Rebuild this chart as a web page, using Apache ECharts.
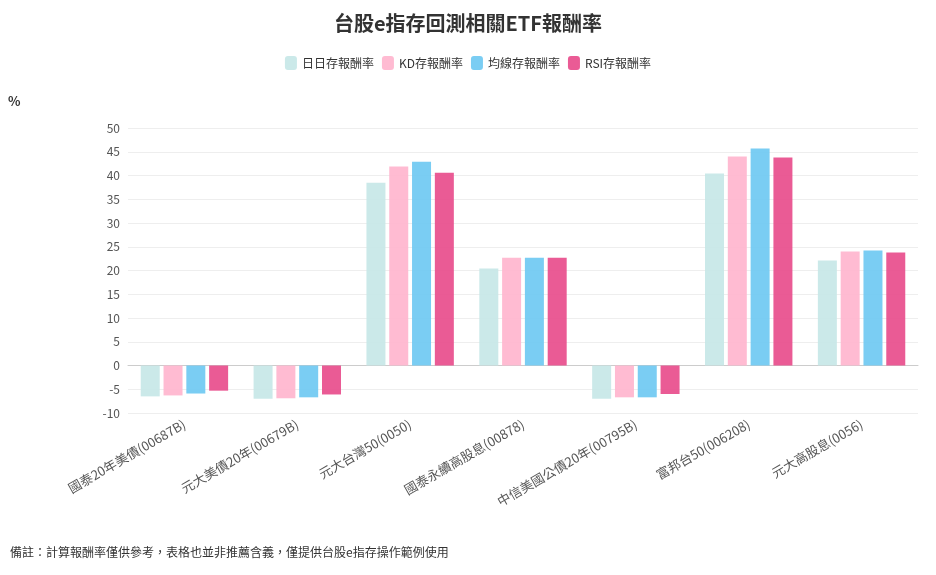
<!DOCTYPE html>
<html>
<head>
<meta charset="utf-8">
<script src="https://cdn.jsdelivr.net/npm/echarts@6/dist/echarts.min.js"></script>
<style>html,body{margin:0;padding:0;background:#fff}#container{width:936px;height:575px}</style>
</head>
<body>
<div id="container"></div>
<script>
var categories = ['國泰20年美債(00687B)', '元大美債20年(00679B)', '元大台灣50(0050)', '國泰永續高股息(00878)', '中信美國公債20年(00795B)', '富邦台50(006208)', '元大高股息(0056)'];
var seriesNames = ['日日存報酬率', 'KD存報酬率', '均線存報酬率', 'RSI存報酬率'];
var dailyValues = [-6.5, -7.0, 38.5, 20.4, -7.0, 40.4, 22.1];
var kdValues = [-6.3, -6.9, 41.9, 22.7, -6.7, 44.0, 24.0];
var maValues = [-5.9, -6.7, 42.9, 22.7, -6.7, 45.7, 24.2];
var rsiValues = [-5.3, -6.1, 40.6, 22.7, -6.0, 43.8, 23.8];
var colors = ['#c5e7e7', '#ffb4cd', '#6cc8f2', '#e8498a'];

var dom = document.getElementById('container');
var myChart = echarts.init(dom, null, { renderer: 'canvas' });
var font = '"Noto Sans CJK TC", "Noto Sans", sans-serif';
var allValues = [dailyValues, kdValues, maValues, rsiValues];

var option = {
    color: colors,
    textStyle: { fontFamily: font },
    title: {
        text: '台股e指存回測相關ETF報酬率',
        left: 'center',
        top: 8,
        textStyle: { fontSize: 20, fontWeight: 'bold', color: '#333', fontFamily: font }
    },
    legend: {
        top: 51,
        itemWidth: 12,
        itemHeight: 14,
        itemGap: 8,
        textStyle: { fontSize: 12, color: '#333', fontFamily: font },
        data: seriesNames
    },
    grid: { left: 128, right: 18, top: 128, bottom: 162 },
    xAxis: {
        type: 'category',
        data: categories,
        axisTick: { show: false },
        axisLine: { lineStyle: { color: '#ccc' } },
        axisLabel: { rotate: 30, color: '#555', fontSize: 13, interval: 0, margin: 10 }
    },
    yAxis: {
        type: 'value',
        name: '%',
        nameLocation: 'end',
        nameGap: 20,
        nameTextStyle: { align: 'left', padding: [0, 0, 0, -120], fontWeight: 'bold', color: '#333', fontSize: 13 },
        min: -10,
        max: 50,
        interval: 5,
        axisLabel: { color: '#555', fontSize: 12 },
        splitLine: { lineStyle: { color: '#eee' } }
    },
    graphic: [{
        type: 'text',
        left: 10,
        top: 546,
        style: { text: '備註：計算報酬率僅供參考，表格也並非推薦含義，僅提供台股e指存操作範例使用', fill: '#333', fontSize: 12, fontFamily: font }
    }],
    series: seriesNames.map(function (n, i) {
        return {
            name: n,
            type: 'bar',
            data: allValues[i],
            barWidth: 19,
            barGap: '20%',
            itemStyle: { color: colors[i], opacity: 0.9 }
        };
    })
};

myChart.setOption(option);
window.addEventListener('resize', myChart.resize);
</script>
</body>
</html>
